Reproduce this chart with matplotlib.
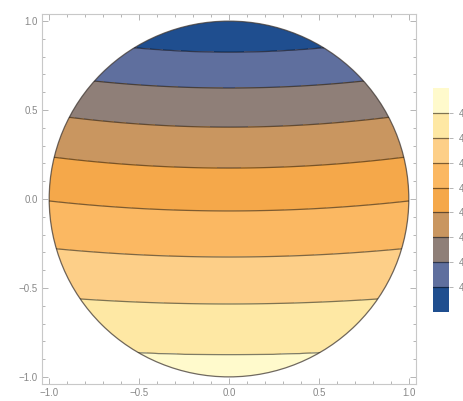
import numpy as np
import matplotlib
matplotlib.use("Agg")
import matplotlib.pyplot as plt
from matplotlib.colors import ListedColormap, BoundaryNorm
from matplotlib.patches import Circle
from matplotlib.ticker import MultipleLocator

plt.rcParams['font.family'] = ['Liberation Sans', 'DejaVu Sans']

# Contour levels (low at the top of the disk, high at the bottom)
levels = [4.1, 4.2, 4.3, 4.4, 4.5, 4.6, 4.7, 4.8]
# Height of each contour line on the vertical centre line x = 0
center_y = [0.826, 0.624, 0.404, 0.174, -0.067, -0.326, -0.590, -0.876]
# Upward bend of each contour toward the rim: y(x) = center_y + bend * x**2
bend = [0.09, 0.07, 0.07, 0.064, 0.056, 0.05, 0.041, 0.045]
# Band colours, lowest value first
band_colors = ['#1f4e8f', '#5f6f9e', '#8f7f78', '#c99660', '#f5a84a',
               '#fbb862', '#fdcf88', '#fee8a4', '#fffacc']
tick_values = [-1.0, -0.5, 0.0, 0.5, 1.0]
tick_labels = ['\u22121.0', '\u22120.5', '0.0', '0.5', '1.0']

W, H = 463, 401
fig = plt.figure(figsize=(W / 100, H / 100), dpi=100)
ax = fig.add_axes([42 / W, (H - 384) / H, 374 / W, 370 / H])

# Field built so each level sits on its measured curve
xs = np.linspace(-1.05, 1.05, 500)
ys = np.linspace(-1.05, 1.05, 500)
X, Y = np.meshgrid(xs, ys)
lv = np.array(levels)
cy = np.array(center_y)
bd = np.array(bend)
Z = np.empty_like(X)
for j in range(X.shape[1]):
    x = xs[j]
    curve = cy + bd * x ** 2
    yy = np.concatenate(([3.0], curve, [-3.0]))
    vv = np.concatenate(([lv[0] - 0.1 * 20], lv, [lv[-1] + 0.1 * 20]))
    Z[:, j] = np.interp(Y[:, j], yy[::-1], vv[::-1])

bounds = [lv[0] - 1.0] + levels + [lv[-1] + 1.0]
cmap = ListedColormap(band_colors)
norm = BoundaryNorm(bounds, cmap.N)

disk = Circle((0, 0), 1.0, transform=ax.transData, facecolor='none')
cf = ax.contourf(X, Y, Z, levels=bounds, cmap=cmap, norm=norm)
cf.set_clip_path(disk)
cl = ax.contour(X, Y, Z, levels=levels, colors=[(0, 0, 0, 0.5)], linewidths=0.9)
cl.set_clip_path(disk)
ax.add_patch(Circle((0, 0), 1.0, facecolor='none', edgecolor=(0.25, 0.22, 0.2, 0.75),
                    linewidth=0.9))

ax.set_xlim(-1.04, 1.04)
ax.set_ylim(-1.04, 1.04)
ax.set_aspect('auto')

frame_c = '#c8c8c8'
text_c = '#888888'
for s in ax.spines.values():
    s.set_color(frame_c)
    s.set_linewidth(0.8)
ax.set_xticks(tick_values)
ax.set_xticklabels(tick_labels)
ax.set_yticks(tick_values)
ax.set_yticklabels(tick_labels)
ax.xaxis.set_minor_locator(MultipleLocator(0.1))
ax.yaxis.set_minor_locator(MultipleLocator(0.1))
ax.tick_params(which='both', direction='in', color='#aaaaaa', top=True, right=True,
               labelsize=7, labelcolor=text_c, width=0.6)
ax.tick_params(which='major', length=4, pad=3)
ax.tick_params(which='minor', length=2)

# Legend bar
cax = fig.add_axes([433 / W, (H - 312) / H, 16 / W, 224 / H])
edges = np.arange(len(band_colors) + 1)
for i, c in enumerate(band_colors):
    cax.axhspan(edges[i], edges[i + 1], color=c, lw=0)
for k in range(1, len(band_colors)):
    cax.axhline(k, color=(0, 0, 0, 0.5), lw=0.9)
cax.set_xlim(0, 1)
cax.set_ylim(0, len(band_colors))
cax.set_xticks([])
for s in cax.spines.values():
    s.set_visible(False)
cax.yaxis.tick_right()
cax.set_yticks(range(1, len(band_colors)))
cax.set_yticklabels([f'{v:.1f}' for v in levels])
cax.tick_params(axis='y', length=3, width=0.6, color='#aaaaaa', labelsize=7,
                labelcolor=text_c, pad=4)

fig.savefig('out.png', dpi=100)
